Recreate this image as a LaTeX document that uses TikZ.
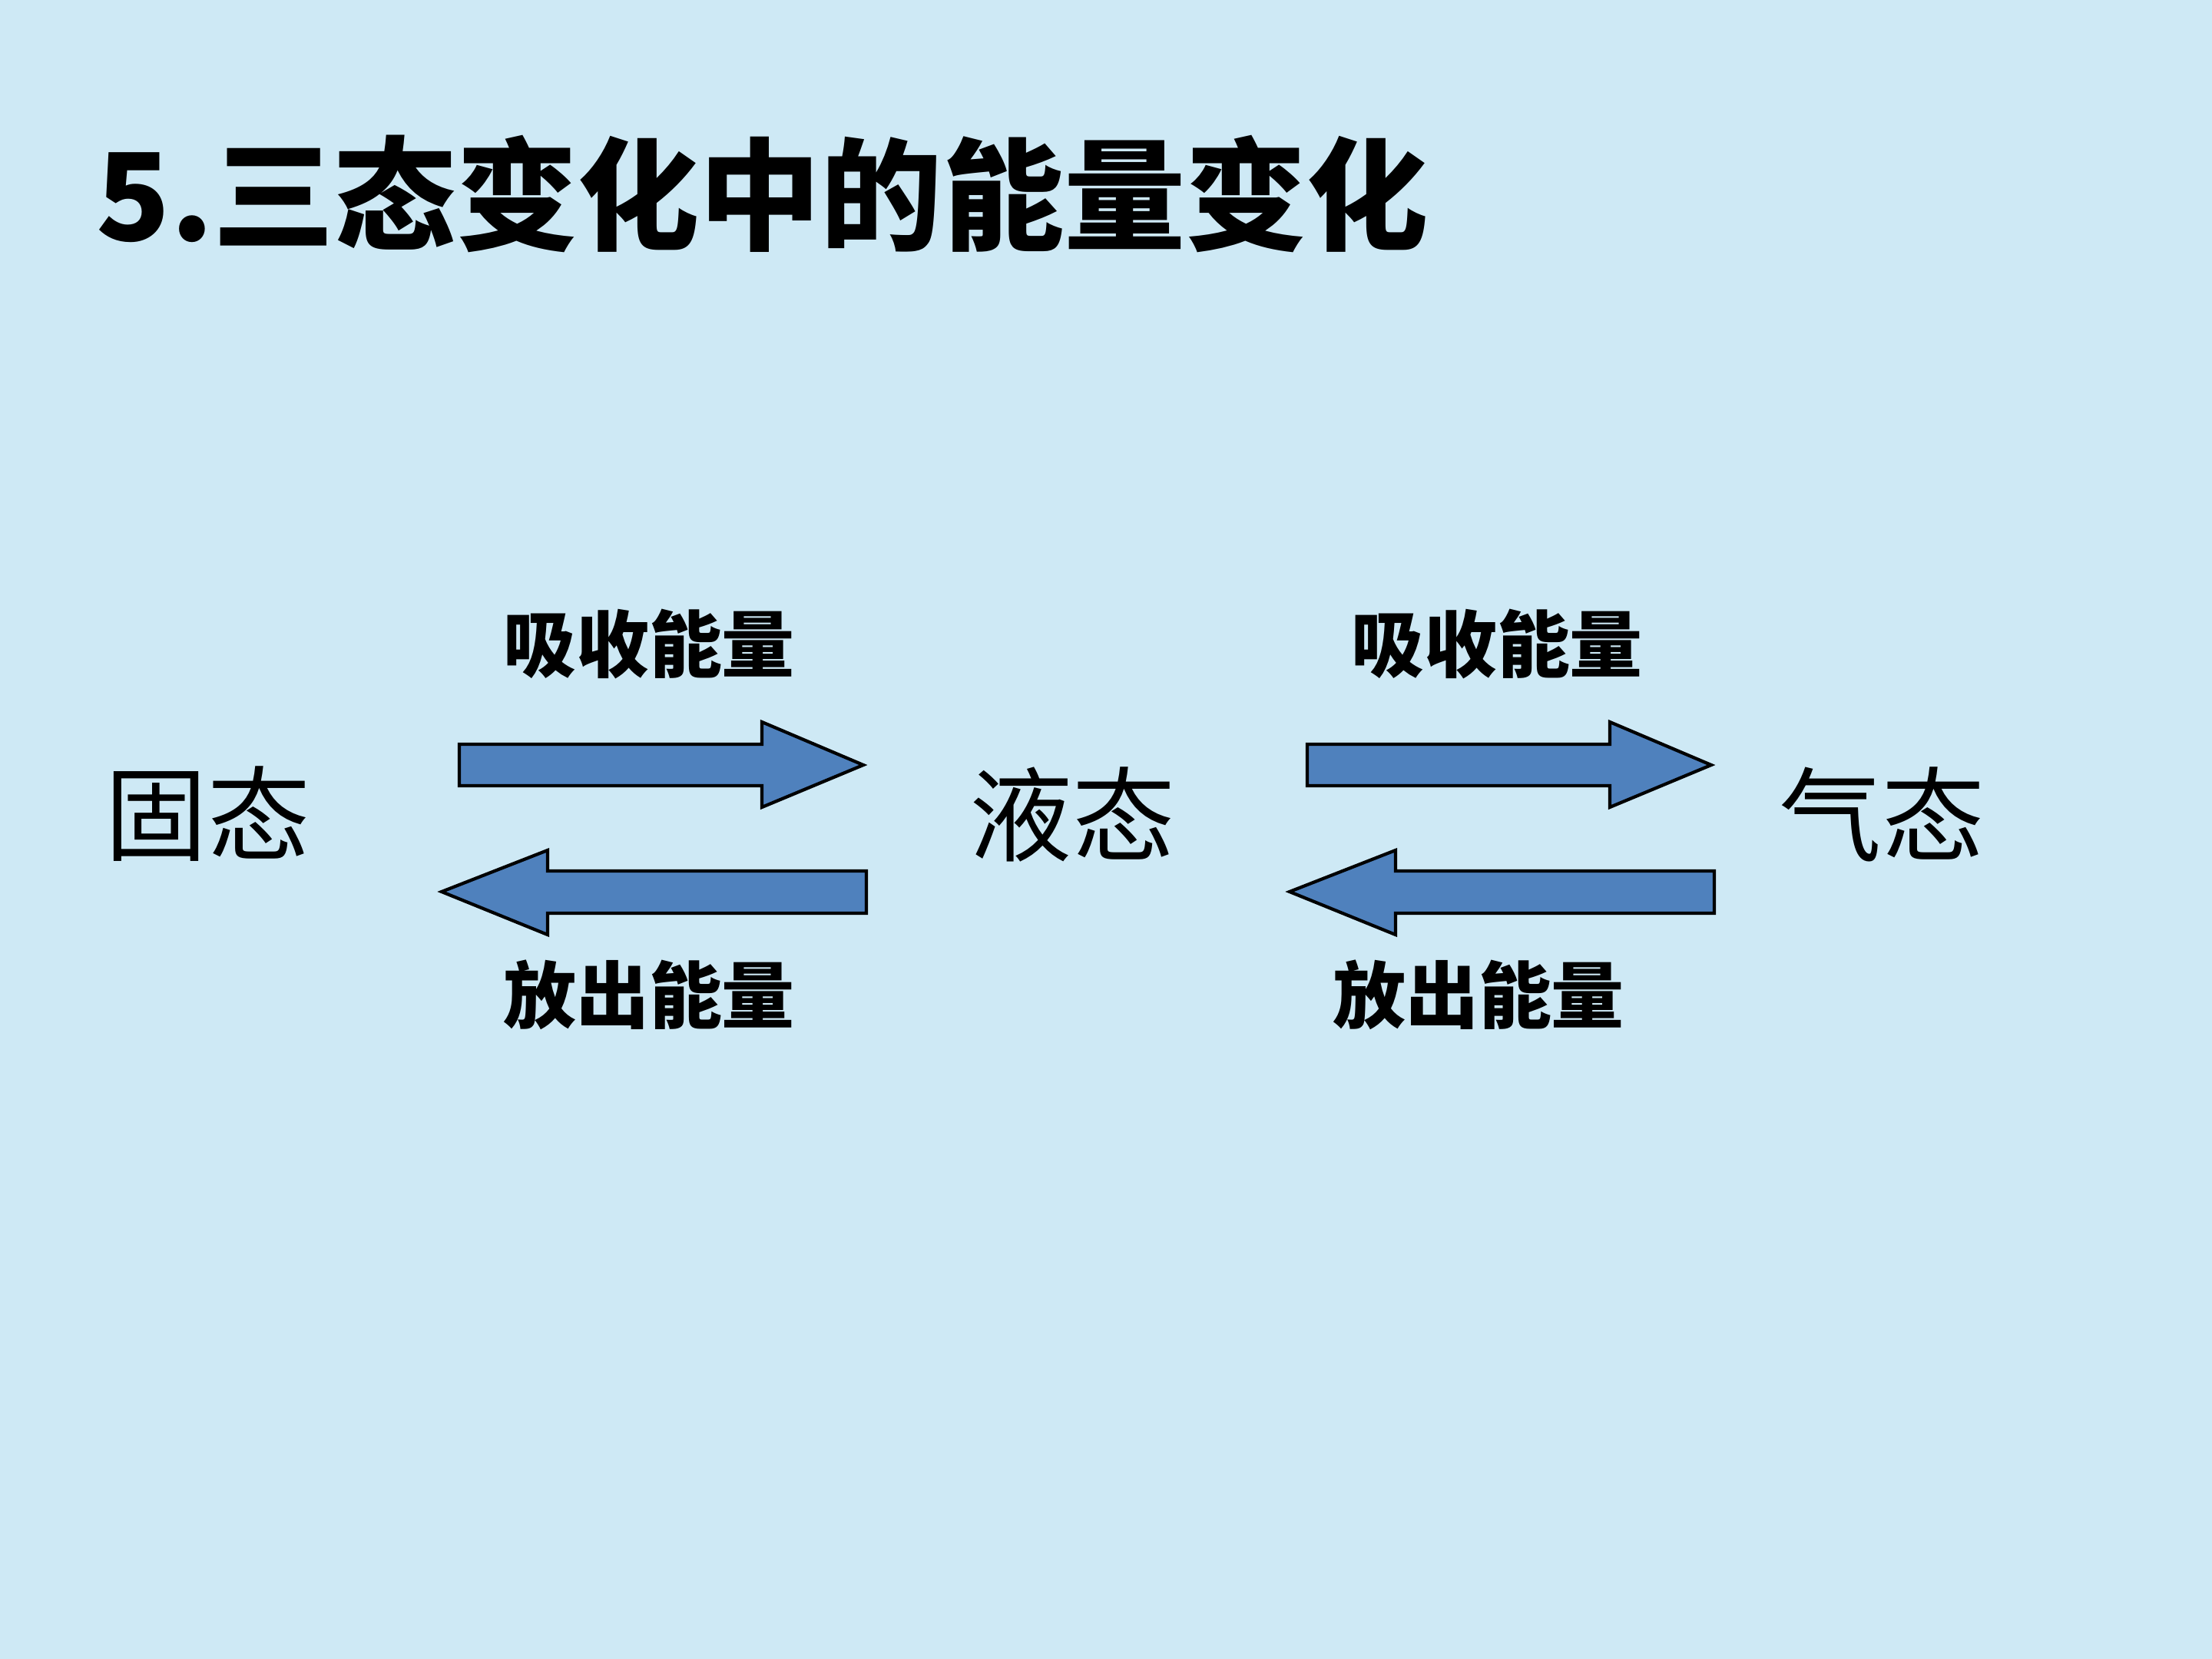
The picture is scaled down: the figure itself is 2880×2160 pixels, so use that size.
\documentclass[tikz,border=0pt]{standalone}
\usepackage{fontspec}
\newfontfamily\cjk{Noto Sans CJK SC}
\definecolor{bgblue}{RGB}{206,233,245}
\definecolor{arrowblue}{RGB}{79,129,189}
\tikzset{
  state/.style={font=\cjk\fontsize{38}{40}\selectfont, inner sep=0pt, anchor=center},
  lbl/.style={font=\cjk\bfseries\fontsize{27}{29}\selectfont, inner sep=0pt, anchor=center},
  blockarrow/.style={fill=arrowblue, draw=black, line width=1.2pt, line join=miter}
}
\begin{document}
\begin{tikzpicture}[x=0.01cm,y=-0.01cm]
\fill[bgblue] (0,0) rectangle (2880,2160);
\useasboundingbox (0,0) rectangle (2880,2160);
\node[font=\cjk\bfseries\fontsize{45}{47}\selectfont, inner sep=0pt, anchor=west] (title) at (125,252) {5.三态变化中的能量变化};
\node[state] (solid) at (270,1060) {固态};
\node[state] (liquid) at (1396,1060) {液态};
\node[state] (gas) at (2450,1060) {气态};
\node[lbl] (absorb1) at (845,839) {吸收能量};
\node[lbl] (absorb2) at (1949,839) {吸收能量};
\node[lbl] (release1) at (845,1295) {放出能量};
\node[lbl] (release2) at (1925,1295) {放出能量};
\foreach \dx/\nm in {0/a, 1104/b}{
  \begin{scope}[xshift=\dx*0.01cm]
    \draw[blockarrow] (598,969) -- (992,969) -- (992,940) -- (1124,996) -- (992,1051) -- (992,1023) -- (598,1023) -- cycle;
    \draw[blockarrow] (1128,1134) -- (713,1134) -- (713,1107) -- (575,1161) -- (713,1217) -- (713,1189) -- (1128,1189) -- cycle;
  \end{scope}
}
\end{tikzpicture}
\end{document}
